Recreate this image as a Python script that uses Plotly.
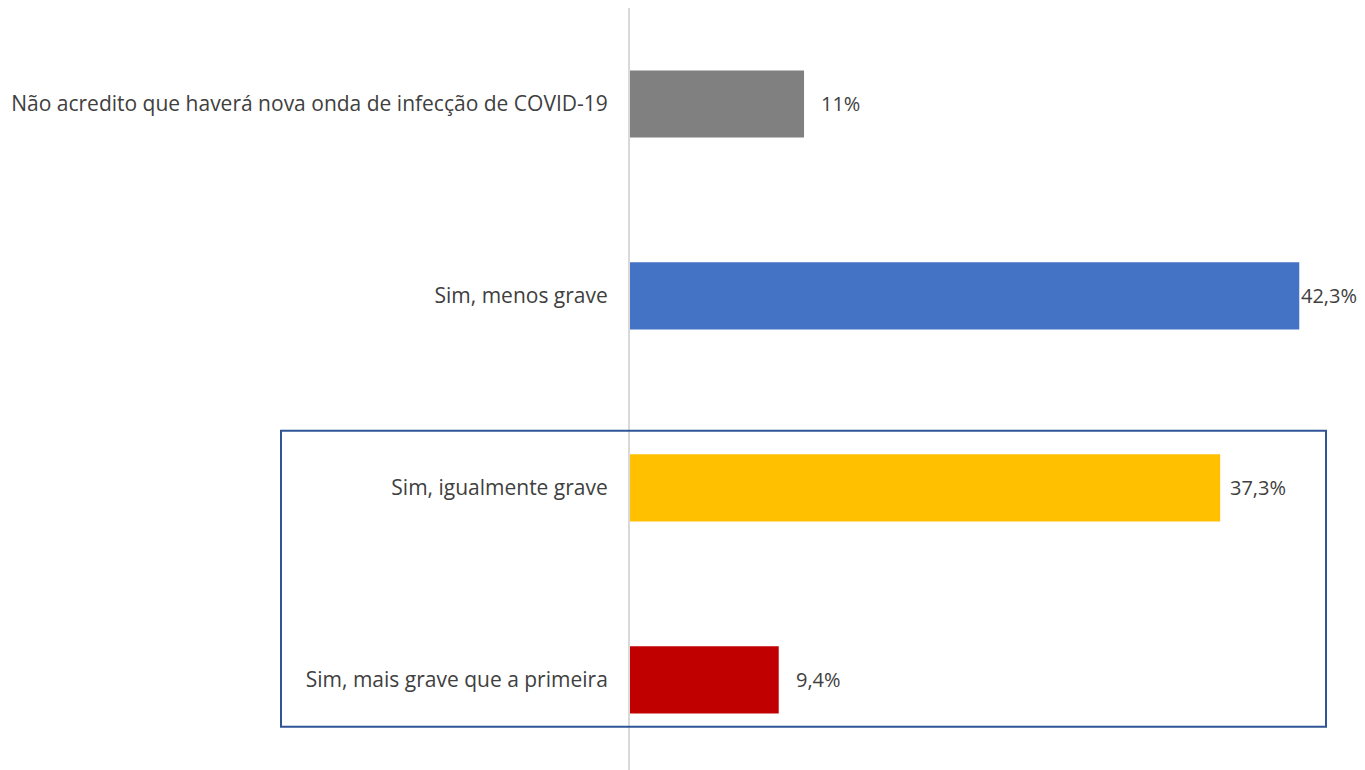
import plotly.graph_objects as go

categories = ["Sim, mais grave que a primeira", "Sim, igualmente grave",
              "Sim, menos grave", "Não acredito que haverá nova onda de infecção de COVID-19"]
values = [9.4, 37.3, 42.3, 11.0]
labels = ["9,4%", "37,3%", "42,3%", "11%"]
colors = ["#C00000", "#FFC000", "#4472C4", "#808080"]
label_shift = [17, 10, 2, 17]

W, H = 1349, 762
left, right_m, top, bottom = 622, 15, 0, 0
xmax = 45.0
pw = W - left - right_m

fig = go.Figure()
fig.add_trace(go.Bar(
    y=categories, x=values, orientation="h",
    marker=dict(color=colors, line=dict(width=0)),
    width=0.35, hoverinfo="skip",
))

for c, v, t, s in zip(categories, values, labels, label_shift):
    fig.add_annotation(x=v, y=c, text=t, showarrow=False, xanchor="left",
                       xshift=s, borderpad=0, borderwidth=0,
                       font=dict(size=20, color="#404040"))

fig.add_shape(type="rect", xref="paper", yref="y",
              x0=(281 - 8 - left) / pw, x1=(1326 - 8 - left) / pw,
              y0=-0.245, y1=1.297,
              line=dict(color="#2F5597", width=2), fillcolor="rgba(0,0,0,0)")

fig.update_layout(
    width=W, height=H,
    margin=dict(l=left, r=right_m, t=top, b=bottom, pad=0),
    paper_bgcolor="white", plot_bgcolor="white",
    showlegend=False,
    font=dict(family="Open Sans", size=21, color="#404040"),
    xaxis=dict(range=[0, xmax], showgrid=False, zeroline=False, showticklabels=False,
               showline=False, fixedrange=True),
    yaxis=dict(categoryorder="array", categoryarray=categories,
               range=[-0.47, 3.5], showgrid=False, zeroline=False,
               showline=True, linecolor="#D9D9D9", linewidth=2,
               ticks="", ticklabelstandoff=16,
               tickfont=dict(size=21, color="#404040")),
)

fig.write_html("out.html")
